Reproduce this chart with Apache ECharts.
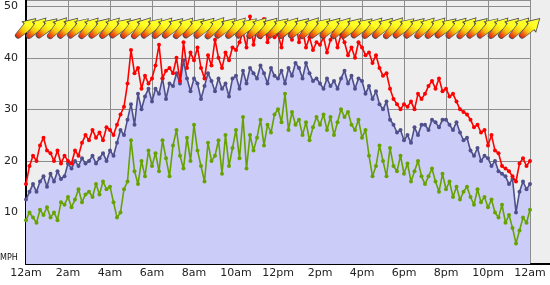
<!DOCTYPE html>
<html>
<head>
<meta charset="utf-8">
<script src="https://cdn.jsdelivr.net/npm/echarts@6/dist/echarts.min.js"></script>
<style>
html,body{margin:0;padding:0;background:#ffffff;overflow:hidden;}
#chart{width:550px;height:285px;}
</style>
</head>
<body>
<div id="chart"></div>
<script>
// sample interval of the wind series, minutes
const stepMinutes = 10;
const arrowStepMinutes = 30;

const xTickLabels = ['12am','2am','4am','6am','8am','10am','12pm','2pm','4pm','6pm','8pm','10pm','12am'];
const yTickLabels = ['', '10', '20', '30', '40', '50'];
const yUnit = 'MPH';

// average wind speed (mph), every 10 minutes from 12am to 12am
const avgWind = [
  12.5,14,15.5,14,16,17,
  15,17.5,16,18,16.5,17,
  19.5,18.5,20,19,20.5,19.5,
  20,21,19.5,20.5,21.5,20,
  22,21,23.5,26,25,28,
  31,27,33,30,32.5,34,
  31.5,34,33,36,32,35,
  34.5,37,35,39.5,36,33.5,
  36,35,32,34.5,37,35.5,
  33.5,36,34,35,32.5,36,
  36.5,34,37.5,35,38,37,
  36,38.5,37,35,38,36.5,
  36,37.5,35,38,36.5,39,
  38,36,39,37,35.5,36,
  35,34,36,34.5,35.5,34,
  36,37.5,35,36.5,34,36,
  35.5,33,34.5,32,33.5,31,
  30,31.5,28,27,25.5,26,
  24,25,23.5,26.5,25,27,
  27,26,28,27.5,26.5,28,
  28,27,26,27.5,25.5,24,
  24.5,22,21,22.5,20,21,
  20.5,19,20,18,17.5,17,
  15.5,16.5,10,14,16,14.5,
  15.5
];

// gusts (mph)
const gustWind = [
  15.5,19,21,20,23,24.5,
  22,21.5,20,22,19.5,21,
  20,19.5,22,21,23.5,25,
  24,26,24.5,25.5,24,26.5,
  26,25,27,29,30.5,35,
  41.5,37,38,34,36.5,35,
  36,38.5,42.5,36,37.5,38,
  37,40,35.5,43,38,41,
  39.5,42,38,36,40.5,38.5,
  43.5,40,38,41,39.5,42,
  41.5,43,45,42,48,42.5,
  45.5,44,47.5,43,45,44,
  44.5,42,46,45,43.5,47,
  43,45.5,42,44,41.5,43,
  42.5,44,41,43.5,45,42,
  44.5,43,40.5,42,40,43,
  42,40.5,41,39,40.5,38,
  36.5,37,34,32,31,30,
  31,30.5,31.5,30,33,32,
  33,34.5,35.5,34,36,33.5,
  34,32.5,33,31.5,30,29.5,
  29,28,26.5,27,25.5,26,
  23,25,22,21.5,19,18.5,
  18,17,16,19.5,20.5,19,
  20
];

// lulls (mph)
const lullWind = [
  8.5,10,9,8,10.5,9.5,
  11,9,10,8.5,12,11.5,
  13,11,12.5,14.5,12,13.5,
  14,13,15.5,13.5,16,14.5,
  15,12,9,10,14.5,16,
  24,18,15.5,20,17,22,
  19,21.5,18,24,20.5,17,
  23,26,21,18.5,24.5,20,
  27,22,19,16,23.5,20,
  21,24,17.5,25,19,22.5,
  26,20.5,28.5,18.5,25,22,
  24.5,28,23,27,25.5,29,
  30,27.5,33,26,29.5,27,
  28,25,27.5,24,26.5,28.5,
  27,29,26,28.5,25,27.5,
  30,28.5,29.5,27,26,28,
  24.5,26,21,17,19,23,
  20,17,22.5,19,18,21,
  17.5,19.5,16,18,20,17,
  15.5,17,18.5,16,14,17.5,
  14.5,16,13,15,12.5,14,
  15,13,11.5,14.5,12,13,
  11,12.5,10,9,11.5,8,
  9.5,7,4,6.5,9,8,
  10.5
];

// wind direction arrows: height on the chart and pointing angle (deg), every 30 minutes
const arrowLevel = 45.8;
const arrowAngle = [
  44,46,42,48,45,43,47,44,46,42,
  45,48,43,46,44,47,42,45,49,44,
  46,43,47,45,42,46,44,48,43,45,
  47,44,42,46,45,48,43,44,47,46,
  42,45,48,44,43,46,45,47,44
];

const toHours = (i, step) => i * step / 60;
const avgData = avgWind.map((v, i) => [toHours(i, stepMinutes), v]);
const gustData = gustWind.map((v, i) => [toHours(i, stepMinutes), v]);
const lullData = lullWind.map((v, i) => [toHours(i, stepMinutes), v]);
const arrowData = arrowAngle.map((a, i) => [toHours(i, arrowStepMinutes), arrowLevel]);

const font = 'DejaVu Sans';
const chart = echarts.init(document.getElementById('chart'), null, { renderer: 'canvas' });

const arrowPath = 'path://M58,0 L100,20 L58,40 L58,32 L13,28 A8,8 0 0 1 13,12 L58,8 Z';

chart.setOption({
  animation: false,
  backgroundColor: '#ffffff',
  grid: { left: 26, right: 20, top: 0, bottom: 21, show: true, backgroundColor: '#eeeeee', borderWidth: 0 },
  xAxis: {
    type: 'value', min: 0, max: 24, interval: 2,
    axisLine: { show: true, lineStyle: { color: '#000', width: 2 } },
    axisTick: { show: false },
    axisLabel: {
      margin: 4, color: '#222', fontFamily: font, fontSize: 11,
      formatter: v => xTickLabels[Math.round(v / 2)]
    },
    splitLine: { show: true, lineStyle: { color: '#8c8c8c', width: 1 } }
  },
  yAxis: {
    type: 'value', min: 0, max: 51.2, interval: 10,
    axisLine: { show: true, lineStyle: { color: '#000', width: 2 } },
    axisTick: { show: false },
    axisLabel: {
      margin: 8, color: '#222', fontFamily: font, fontSize: 11,
      formatter: v => (Math.abs(v % 10) < 1e-9 && v <= 50) ? yTickLabels[v / 10] : ''
    },
    splitLine: { show: true, lineStyle: { color: '#8c8c8c', width: 1 } }
  },
  graphic: [
    { type: 'rect', shape: { x: 530, y: 0, width: 20, height: 264 }, z: -1, style: { fill: '#eeeeee' } },
    { type: 'line', shape: { x1: 530, y1: 264, x2: 550, y2: 264 }, z: 0, style: { stroke: '#000000', lineWidth: 2 } },
    { type: 'text', left: 0, top: 254, z: 10, style: { text: yUnit, fontFamily: font, fontSize: 8, fill: '#111' } }
  ],
  series: [
    {
      name: 'avg-area', type: 'line', data: avgData, symbol: 'none', z: 1,
      lineStyle: { width: 0 }, areaStyle: { color: '#ccccf8', opacity: 1 }
    },
    {
      name: 'lull', type: 'line', data: lullData, symbol: 'circle', symbolSize: 4, z: 3,
      itemStyle: { color: '#66a300' }, lineStyle: { color: '#66a300', width: 1.6 }
    },
    {
      name: 'avg', type: 'line', data: avgData, symbol: 'circle', symbolSize: 4, z: 4,
      itemStyle: { color: '#4f4f8c' }, lineStyle: { color: '#4f4f8c', width: 1.6 }
    },
    {
      name: 'gust', type: 'line', data: gustData, symbol: 'circle', symbolSize: 4, z: 5,
      itemStyle: { color: '#ff0000' }, lineStyle: { color: '#ff0000', width: 1.6 }
    },
    {
      name: 'direction', type: 'scatter', data: arrowData, z: 6,
      symbol: arrowPath, symbolSize: [27, 14], symbolKeepAspect: false,
      symbolRotate: (value, params) => arrowAngle[params.dataIndex],
      itemStyle: {
        color: new echarts.graphic.LinearGradient(0, 0, 1, 0, [
          { offset: 0, color: '#e01c10' },
          { offset: 0.15, color: '#ee5010' },
          { offset: 0.35, color: '#f6c810' },
          { offset: 0.6, color: '#ffff20' },
          { offset: 1, color: '#ffff40' }
        ]),
        borderColor: '#4a4a4a',
        borderWidth: 0.8,
        opacity: 1
      }
    }
  ]
});
</script>
</body>
</html>
